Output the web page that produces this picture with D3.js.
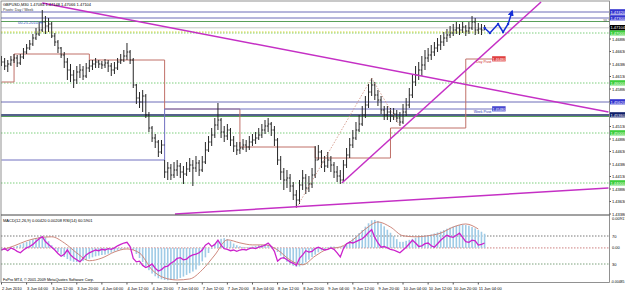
<!DOCTYPE html>
<html><head><meta charset="utf-8">
<script src="https://cdn.jsdelivr.net/npm/d3@7/dist/d3.min.js"></script>
<style>
body{margin:0;background:#fff;}
svg{display:block;font-family:"Liberation Sans",Arial,sans-serif;}
</style></head><body><div id="chart"></div>
<script>
// GBPUSD M30 screen, read hour by hour (bar index 0 = 2 Jun 20:00)
const highs = [1.4654,1.4650,1.4646,1.4654,1.4658,1.4656,1.4658,1.4670,1.4678,1.4686,1.4698,1.4710,1.4722,1.4746,1.4734,1.4730,1.4722,1.4700,1.4686,1.4672,
1.4662,1.4650,1.4638,1.4626,1.4634,1.4638,1.4634,1.4640,1.4646,1.4646,1.4650,1.4646,1.4644,1.4648,1.4646,1.4640,1.4642,1.4650,1.4658,1.4666,
1.4680,1.4666,1.4650,1.4598,1.4582,1.4586,1.4578,1.4542,1.4514,1.4498,1.4486,1.4486,1.4446,1.4442,1.4438,1.4442,1.4446,1.4440,1.4434,1.4442,
1.4450,1.4446,1.4454,1.4446,1.4454,1.4482,1.4494,1.4510,1.4530,1.4560,1.4530,1.4514,1.4518,1.4510,1.4494,1.4482,1.4482,1.4488,1.4486,1.4494,
1.4498,1.4502,1.4510,1.4518,1.4526,1.4530,1.4522,1.4514,1.4490,1.4454,1.4430,1.4426,1.4418,1.4402,1.4386,1.4406,1.4426,1.4418,1.4414,1.4430,
1.4474,1.4476,1.4466,1.4454,1.4462,1.4454,1.4442,1.4434,1.4426,1.4446,1.4470,1.4490,1.4506,1.4522,1.4536,1.4554,1.4574,1.4598,1.4610,1.4602,
1.4586,1.4574,1.4554,1.4554,1.4550,1.4550,1.4546,1.4542,1.4558,1.4570,1.4590,1.4618,1.4634,1.4642,1.4654,1.4666,1.4670,1.4676,1.4682,1.4690,
1.4696,1.4702,1.4708,1.4714,1.4718,1.4722,1.4718,1.4722,1.4716,1.4722,1.4734,1.4730,1.4720,1.4718,1.4716];
const lows = [1.4634,1.4626,1.4622,1.4634,1.4640,1.4632,1.4636,1.4648,1.4658,1.4666,1.4674,1.4686,1.4694,1.4702,1.4698,1.4702,1.4690,1.4674,1.4660,1.4650,
1.4630,1.4606,1.4602,1.4590,1.4598,1.4610,1.4606,1.4610,1.4622,1.4626,1.4630,1.4630,1.4628,1.4630,1.4622,1.4614,1.4618,1.4626,1.4638,1.4642,
1.4646,1.4638,1.4590,1.4558,1.4550,1.4542,1.4530,1.4502,1.4482,1.4470,1.4452,1.4458,1.4410,1.4406,1.4406,1.4410,1.4414,1.4410,1.4398,1.4414,
1.4422,1.4394,1.4422,1.4414,1.4422,1.4438,1.4462,1.4474,1.4490,1.4506,1.4490,1.4482,1.4486,1.4474,1.4462,1.4456,1.4458,1.4466,1.4462,1.4466,
1.4474,1.4478,1.4486,1.4490,1.4498,1.4502,1.4494,1.4474,1.4436,1.4406,1.4386,1.4390,1.4382,1.4366,1.4350,1.4358,1.4386,1.4378,1.4382,1.4390,
1.4410,1.4446,1.4430,1.4422,1.4430,1.4422,1.4410,1.4402,1.4398,1.4402,1.4430,1.4450,1.4470,1.4486,1.4502,1.4514,1.4530,1.4550,1.4574,1.4566,
1.4554,1.4538,1.4526,1.4526,1.4522,1.4526,1.4522,1.4514,1.4518,1.4534,1.4550,1.4570,1.4594,1.4606,1.4614,1.4626,1.4642,1.4646,1.4654,1.4662,
1.4666,1.4674,1.4682,1.4690,1.4694,1.4698,1.4696,1.4700,1.4694,1.4698,1.4706,1.4696,1.4698,1.4696,1.4706];
const closes = [1.4642,1.4634,1.4638,1.4646,1.4650,1.4640,1.4652,1.4662,1.4670,1.4678,1.4690,1.4698,1.4706,1.4722,1.4714,1.4718,1.4694,1.4682,1.4670,1.4656,
1.4642,1.4626,1.4616,1.4606,1.4622,1.4626,1.4614,1.4630,1.4634,1.4638,1.4642,1.4638,1.4636,1.4640,1.4634,1.4626,1.4630,1.4642,1.4646,1.4654,
1.4662,1.4646,1.4596,1.4570,1.4562,1.4574,1.4536,1.4510,1.4490,1.4482,1.4462,1.4476,1.4422,1.4430,1.4416,1.4426,1.4434,1.4422,1.4418,1.4428,
1.4436,1.4430,1.4440,1.4426,1.4442,1.4466,1.4482,1.4496,1.4516,1.4526,1.4502,1.4494,1.4506,1.4486,1.4474,1.4466,1.4470,1.4476,1.4472,1.4482,
1.4486,1.4490,1.4496,1.4506,1.4514,1.4518,1.4506,1.4486,1.4446,1.4422,1.4406,1.4410,1.4394,1.4376,1.4366,1.4396,1.4410,1.4390,1.4398,1.4416,
1.4446,1.4462,1.4442,1.4434,1.4446,1.4436,1.4422,1.4414,1.4406,1.4436,1.4456,1.4476,1.4490,1.4506,1.4518,1.4536,1.4556,1.4582,1.4596,1.4576,
1.4566,1.4546,1.4536,1.4542,1.4534,1.4538,1.4530,1.4522,1.4542,1.4556,1.4576,1.4602,1.4616,1.4626,1.4636,1.4650,1.4656,1.4662,1.4670,1.4676,
1.4682,1.4690,1.4696,1.4700,1.4706,1.4710,1.4706,1.4712,1.4704,1.4710,1.4722,1.4706,1.4708,1.4706,1.47104];
const firstOpen = 1.4648;

// MACD(12,26,9) main as histogram, signal every 4 bars, RSI(14)
const macd = [-0.0008,-0.0006,-0.0004,-0.0002,0.0002,0.0006,0.0010,0.0014,0.0018,0.0022,0.0026,0.0029,0.0032,0.0034,0.0031,0.0020,0.0008,-0.0004,-0.0012,-0.0020,
-0.0027,-0.0033,-0.0038,-0.0041,-0.0042,-0.0041,-0.0039,-0.0036,-0.0032,-0.0028,-0.0025,-0.0023,-0.0021,-0.0020,-0.0017,-0.0014,-0.0011,-0.0008,-0.0005,-0.0002,
0.0001,0.0002,-0.0006,-0.0018,-0.0030,-0.0042,-0.0055,-0.0066,-0.0076,-0.0084,-0.0090,-0.0093,-0.0095,-0.0096,-0.0095,-0.0094,-0.0092,-0.0089,-0.0085,-0.0080,
-0.0075,-0.0070,-0.0064,-0.0052,-0.0040,-0.0028,-0.0015,-0.0003,0.0010,0.0020,0.0027,0.0029,0.0026,0.0020,0.0013,0.0008,0.0005,0.0003,0.0002,0.0003,
0.0004,0.0006,0.0008,0.0009,0.0010,0.0009,0.0005,-0.0002,-0.0012,-0.0023,-0.0033,-0.0041,-0.0048,-0.0053,-0.0056,-0.0055,-0.0050,-0.0043,-0.0035,-0.0027,
-0.0020,-0.0013,-0.0008,-0.0004,0.0002,0.0004,0.0004,0.0003,0.0002,0.0006,0.0012,0.0020,0.0028,0.0036,0.0044,0.0053,0.0063,0.0073,0.0082,0.0083,
0.0080,0.0073,0.0064,0.0054,0.0045,0.0035,0.0026,0.0018,0.0018,0.0021,0.0024,0.0027,0.0030,0.0033,0.0035,0.0037,0.0038,0.0040,0.0043,0.0046,
0.0049,0.0053,0.0057,0.0060,0.0063,0.0066,0.0068,0.0069,0.0068,0.0066,0.0062,0.0058,0.0053,0.0048,0.0042];
const signal = [-0.0006,0.0006,0.0021,0.0030,0.0033,0.0015,-0.0015,-0.0038,-0.0030,-0.0012,-0.0003,-0.0015,-0.0065,-0.0089,-0.0095,-0.0092,-0.0065,-0.0021,0.0024,0.0015,
0.0009,0.0009,-0.0006,-0.0036,-0.0050,-0.0024,-0.0003,0.0003,0.0024,0.0056,0.0077,0.0062,0.0036,0.0033,0.0036,0.0044,0.0062,0.0071,0.0056];
const signalStep = 4;
const rsi = [50,52,49,53,51,48,46,50,53,55,58,62,66,69,62,58,54,50,45,41,
44,50,43,39,36,33,38,43,46,48,50,49,51,50,52,51,53,56,58,60,
61,55,38,33,34,28,25,27,30,24,20,22,26,27,31,34,38,39,36,37,
41,43,44,46,50,57,60,55,58,64,57,52,51,49,50,48,50,51,50,52,
53,52,54,55,57,60,55,48,34,38,39,36,33,31,28,38,43,49,47,48,
52,54,52,50,51,53,51,46,40,52,59,61,60,62,64,66,70,75,79,68,
60,54,55,53,51,50,48,46,50,54,59,64,60,55,56,59,60,56,54,59,
64,68,71,69,68,71,74,68,62,61,64,63,57,58,60];

// time axis
const timeBars = [0,8,16,24,32,40,48,56,64,72,80,88,96,104,112,120,128,136,144,152];
const timeLabels = ["2 Jun 2010","3 Jun 04:00","3 Jun 12:00","3 Jun 20:00","4 Jun 04:00","4 Jun 12:00","4 Jun 20:00",
"7 Jun 04:00","7 Jun 12:00","7 Jun 20:00","8 Jun 04:00","8 Jun 12:00","8 Jun 20:00","9 Jun 04:00","9 Jun 12:00",
"9 Jun 20:00","10 Jun 04:00","10 Jun 12:00","10 Jun 20:00","11 Jun 04:00"];
const priceTicks = [1.4338,1.4363,1.4388,1.4413,1.4438,1.4463,1.4488,1.4513,1.4538,1.4563,1.4588,1.4613,1.4638,1.4663,1.4688,1.4713,1.4738];

// pivots and levels
const dayStarts = [0,4,28,52,76,100,124,148];
const dayPivots = [1.4602,1.4658,1.4646,1.4548,1.4472,1.4450,1.4510,1.4648];
const weekStarts = [0,52];
const weekPivots = [1.4446,1.4548];
const pivotEnd = 160.5;
const roundLevels = [1.47,1.46,1.45,1.44];
const blueLevels = [1.4742,1.4730,1.4562];
const navyLevel = 1.4536;
const greenLevels = [1.4723,1.4533];
const yellowLevel = 1.4702;
const bid = 1.47104;

// trend lines [bar, price]
const trendDown = [[13,1.4760],[193.5,1.4542]];
const trendLow = [[55.3,1.4338],[193.5,1.4390]];
const trendUp = [[108.5,1.4400],[172,1.4762]];
const zigzag = [[94,1.4350],[118,1.4610],[127,1.4514]];
const projBars = [154,155.7,158.3,159.9,161.5,162.8];
const projPrices = [1.4710,1.4700,1.4718,1.4702,1.4718,1.4744];

const W = 625, H = 292;
const left = 1, right = 609.5, mainTop = 1, mainBot = 215, subBot = 282.5;

const svg = d3.select('#chart').append('svg').attr('width', W).attr('height', H);
svg.append('rect').attr('width', W).attr('height', H).attr('fill', '#fff');

const x = d3.scaleLinear().domain([0, 193.5]).range([1.5, 608.5]);
const y = d3.scaleLinear().domain([1.4336, 1.4762]).range([mainBot, 2]);
const yM = d3.scaleLinear().domain([-0.0104, 0.00917]).range([283, 217]);
const yR = d3.scaleLinear().domain([30, 70]).range([264, 236]);

const defs = svg.append('defs');
defs.append('clipPath').attr('id', 'cm').append('rect')
  .attr('x', left).attr('y', mainTop).attr('width', right - left).attr('height', mainBot - mainTop);
defs.append('clipPath').attr('id', 'cs').append('rect')
  .attr('x', left).attr('y', mainBot + 1).attr('width', right - left).attr('height', subBot - mainBot - 1);
defs.append('marker').attr('id', 'arr').attr('viewBox', '0 0 10 10').attr('refX', 8).attr('refY', 5)
  .attr('markerWidth', 4).attr('markerHeight', 4).attr('orient', 'auto')
  .append('path').attr('d', 'M0,0L10,5L0,10z').attr('fill', '#1530d8');

const main = svg.append('g').attr('clip-path', 'url(#cm)');
const sub = svg.append('g').attr('clip-path', 'url(#cs)');

function hline(g, p, color, w, dash, x1, x2) {
  g.append('line').attr('x1', x1 == null ? left : x(x1)).attr('x2', x2 == null ? right : x(x2))
    .attr('y1', y(p)).attr('y2', y(p)).attr('stroke', color).attr('stroke-width', w)
    .attr('stroke-dasharray', dash);
}

// levels
roundLevels.forEach(p => hline(main, p, '#7ccf7c', 1, '1.5,1.5'));
hline(main, yellowLevel, '#d8d840', 1, '1.5,1.5', null, 154);
blueLevels.forEach(p => hline(main, p, '#6c6cb8', 1));
greenLevels.forEach(p => hline(main, p, '#5aa05a', 1.2));
hline(main, navyLevel, '#1c2c66', 1.6);
hline(main, bid, '#b8b8b8', 0.8);

// pivots
const stepLine = d3.line().x(d => x(d[0])).y(d => y(d[1])).curve(d3.curveStepAfter);
const dayPts = dayStarts.map((b, i) => [b, dayPivots[i]]).concat([[pivotEnd, dayPivots[dayPivots.length - 1]]]);
const weekPts = weekStarts.map((b, i) => [b, weekPivots[i]]).concat([[pivotEnd, weekPivots[weekPivots.length - 1]]]);
main.append('path').attr('d', stepLine(dayPts)).attr('fill', 'none').attr('stroke', '#c07068').attr('stroke-width', 1);
main.append('path').attr('d', stepLine(weekPts)).attr('fill', 'none').attr('stroke', '#7070c0').attr('stroke-width', 1);

// OHLC bars
const bars = main.append('g').attr('stroke', '#262626').attr('stroke-width', 1);
closes.forEach((c, i) => {
  const o = i === 0 ? firstOpen : closes[i - 1];
  const cx = x(i);
  bars.append('line').attr('x1', cx).attr('x2', cx).attr('y1', y(highs[i])).attr('y2', y(lows[i]));
  bars.append('line').attr('x1', cx - 1.2).attr('x2', cx).attr('y1', y(o)).attr('y2', y(o));
  bars.append('line').attr('x1', cx).attr('x2', cx + 1.2).attr('y1', y(c)).attr('y2', y(c));
});

// zigzag + trendlines
const pline = d3.line().x(d => x(d[0])).y(d => y(d[1]));
main.append('path').attr('d', pline(zigzag)).attr('fill', 'none').attr('stroke', '#d09080')
  .attr('stroke-width', 0.8).attr('stroke-dasharray', '1.5,1.5');
[trendDown, trendLow, trendUp].forEach(t => {
  main.append('path').attr('d', pline(t)).attr('fill', 'none').attr('stroke', '#c530c5').attr('stroke-width', 1.5);
});

// projection arrows
const proj = projBars.map((b, i) => [b, projPrices[i]]);
main.append('path').attr('d', pline(proj)).attr('fill', 'none').attr('stroke', '#1530d8')
  .attr('stroke-width', 1.5).attr('marker-end', 'url(#arr)');
main.selectAll('.pd').data(proj.slice(0, -1)).join('circle').attr('class', 'pd')
  .attr('cx', d => x(d[0])).attr('cy', d => y(d[1])).attr('r', 1.2).attr('fill', '#1530d8');

// pivot labels
const fmt = d3.format('.5f');
function tag(g, xl, p, bg, fg, txt, w, fs) {
  g.append('rect').attr('x', xl).attr('y', y(p) - 2.8).attr('width', w).attr('height', 5.2).attr('fill', bg);
  g.append('text').attr('x', xl + 0.5).attr('y', y(p) + 1.5).attr('font-size', fs || 4).attr('fill', fg).text(txt);
}
const tagX = x(156.4);
svg.append('text').attr('x', tagX - 0.8).attr('y', y(dayPivots[7]) + 4.2).attr('text-anchor', 'end')
  .attr('font-size', 3.5).attr('fill', '#d03030').text('Day Pivot');
tag(svg, tagX, dayPivots[7], '#e04040', '#fff', fmt(dayPivots[7]), 13.5, 3.5);
svg.append('text').attr('x', tagX - 0.8).attr('y', y(weekPivots[1]) + 4.2).attr('text-anchor', 'end')
  .attr('font-size', 3.5).attr('fill', '#3030b0').text('Week Pivot');
tag(svg, tagX, weekPivots[1], '#4a4ad0', '#fff', fmt(weekPivots[1]), 13.5, 3.5);
svg.append('text').attr('x', 603).attr('y', y(greenLevels[0]) + 0.5).attr('font-size', 3.6).attr('fill', '#666').text('38.2');

// header text
svg.append('text').attr('x', 3).attr('y', 6).attr('font-size', 4).attr('fill', '#000')
  .text('GBPUSD,M30  1.47084 1.47148 1.47066 1.47104');
svg.append('text').attr('x', 3).attr('y', 10.5).attr('font-size', 3.6).attr('fill', '#333')
  .text('Pivots: Day / Week');
svg.append('text').attr('x', 18).attr('y', 23.5).attr('font-size', 4).attr('fill', '#3050c0')
  .text('00.25.2010 Hi');

// sub window
[[70, '#555', '1.5,1.5'], [30, '#5a8a5a', '1.5,1.5']].forEach(l => {
  sub.append('line').attr('x1', left).attr('x2', right).attr('y1', yR(l[0])).attr('y2', yR(l[0]))
    .attr('stroke', l[1]).attr('stroke-width', 0.8).attr('stroke-dasharray', l[2]);
});
sub.append('line').attr('x1', left).attr('x2', right).attr('y1', yM(0)).attr('y2', yM(0))
  .attr('stroke', '#c06060').attr('stroke-width', 0.8).attr('stroke-dasharray', '1.5,1.5');

sub.selectAll('.hb').data(macd).join('rect').attr('class', 'hb')
  .attr('x', (d, i) => x(i) - 0.8).attr('width', 1.6)
  .attr('y', d => Math.min(yM(d), yM(0))).attr('height', d => Math.abs(yM(d) - yM(0)))
  .attr('fill', '#9fcbe6');
sub.append('path').datum(signal)
  .attr('d', d3.line().x((d, i) => x(i * signalStep)).y(d => yM(d)).curve(d3.curveMonotoneX))
  .attr('fill', 'none').attr('stroke', '#c87a6e').attr('stroke-width', 0.9);
sub.append('path').datum(rsi)
  .attr('d', d3.line().x((d, i) => x(i)).y(d => yR(d)))
  .attr('fill', 'none').attr('stroke', '#cc22cc').attr('stroke-width', 1.3);

svg.append('text').attr('x', 3).attr('y', 221.5).attr('font-size', 4).attr('fill', '#000')
  .text('MACD(12,26,9) 0.00420 0.00208 RSI(14) 60.5901');
svg.append('text').attr('x', 3).attr('y', 280.5).attr('font-size', 3.8).attr('fill', '#000')
  .text('FxPro MT4, \u00a9 2001-2009 MetaQuotes Software Corp.');

// frames
svg.append('rect').attr('x', left).attr('y', mainTop).attr('width', right - left).attr('height', subBot - mainTop)
  .attr('fill', 'none').attr('stroke', '#777').attr('stroke-width', 0.8);
svg.append('line').attr('x1', left).attr('x2', right).attr('y1', mainBot).attr('y2', mainBot)
  .attr('stroke', '#444').attr('stroke-width', 1);

// price axis: skip tick labels hidden under the coloured level boxes
const boxLevels = roundLevels.concat(blueLevels, [navyLevel, bid]);
const axisG = svg.append('g').attr('font-size', 4).attr('fill', '#000');
priceTicks.forEach(p => {
  axisG.append('line').attr('x1', right).attr('x2', right + 1.5).attr('y1', y(p)).attr('y2', y(p)).attr('stroke', '#555');
  if (boxLevels.some(b => Math.abs(y(b) - y(p)) < 5.5)) return;
  axisG.append('text').attr('x', right + 2.5).attr('y', y(p) + 1.5).text(fmt(p));
});
roundLevels.forEach(p => tag(svg, right + 0.5, p, '#3ccf3c', '#fff', fmt(p), 15));
blueLevels.forEach(p => tag(svg, right + 0.5, p, '#3434d0', '#fff', fmt(p), 15));
tag(svg, right + 0.5, navyLevel, '#10206a', '#fff', fmt(navyLevel), 15);
tag(svg, right + 0.5, bid, '#000', '#fff', fmt(bid), 15);

// sub axis labels
const subLab = svg.append('g').attr('font-size', 4).attr('fill', '#000');
subLab.append('text').attr('x', right + 2.5).attr('y', yM(0.00917) + 2.5).text('0.00917');
subLab.append('text').attr('x', right + 2.5).attr('y', yR(70) + 1.5).text('70');
subLab.append('text').attr('x', right + 2.5).attr('y', yM(0) + 1.5).text('0.00');
subLab.append('text').attr('x', right + 2.5).attr('y', yR(30) + 1.5).text('30');
subLab.append('text').attr('x', right + 1.2).attr('y', yM.range()[0]).attr('font-size', 3.5).text('-0.00485');

// time axis
const tg = svg.append('g').attr('font-size', 4).attr('fill', '#000');
timeBars.forEach((b, i) => {
  tg.append('line').attr('x1', x(b)).attr('x2', x(b)).attr('y1', subBot).attr('y2', subBot + 2).attr('stroke', '#555');
  tg.append('text').attr('x', x(b) + 0.5).attr('y', 290).text(timeLabels[i]);
});
</script></body></html>
